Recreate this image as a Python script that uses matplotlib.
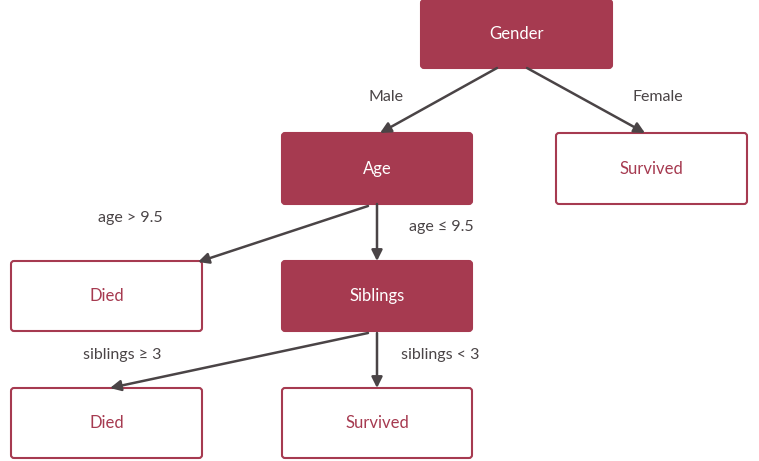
import matplotlib.pyplot as plt
from matplotlib.patches import FancyBboxPatch, FancyArrowPatch

plt.rcParams['font.family'] = ['Lato', 'DejaVu Sans']

# nodes: label, left, top, right, bottom (pixels), filled
node_labels = ["Gender", "Age", "Survived", "Died", "Siblings", "Died", "Survived"]
node_boxes = [(421, 0, 612, 68), (282, 133, 472, 204), (556, 133, 747, 204),
              (11, 261, 202, 331), (282, 261, 472, 331), (11, 388, 202, 458),
              (282, 388, 472, 458)]
node_filled = [True, True, False, False, True, False, False]

# edges: start, end, label, label position
edge_start = [(497, 68), (527, 68), (368, 206), (377, 204), (368, 333), (377, 333)]
edge_end = [(380, 133), (645, 133), (198, 262), (377, 261), (110, 388), (377, 388)]
edge_labels = ["Male", "Female", "age > 9.5", "age ≤ 9.5", "siblings ≥ 3", "siblings < 3"]
edge_label_pos = [(386, 97), (658, 97), (130, 218), (441, 227), (122, 355), (440, 355)]

red = "#A63A50"
grey = "#4a4446"

fig = plt.figure(figsize=(7.59, 4.61), dpi=100)
ax = fig.add_axes([0, 0, 1, 1])
ax.set_xlim(0, 759)
ax.set_ylim(461, 0)
ax.axis("off")

for lab, (l, t, r, b), filled in zip(node_labels, node_boxes, node_filled):
    ax.add_patch(FancyBboxPatch((l, t), r - l, b - t, boxstyle="round,pad=0,rounding_size=3",
                                facecolor=red if filled else "white", edgecolor=red, linewidth=1.5))
    ax.text((l + r) / 2, (t + b) / 2, lab, ha="center", va="center", fontsize=12,
            color="white" if filled else red)

for s, e, lab, p in zip(edge_start, edge_end, edge_labels, edge_label_pos):
    ax.add_patch(FancyArrowPatch(s, e, arrowstyle="-|>", mutation_scale=16,
                                 color=grey, linewidth=1.8, shrinkA=0, shrinkB=0))
    ax.text(p[0], p[1], lab, ha="center", va="center", fontsize=11.5, color=grey)

fig.savefig("out.png", dpi=100)
